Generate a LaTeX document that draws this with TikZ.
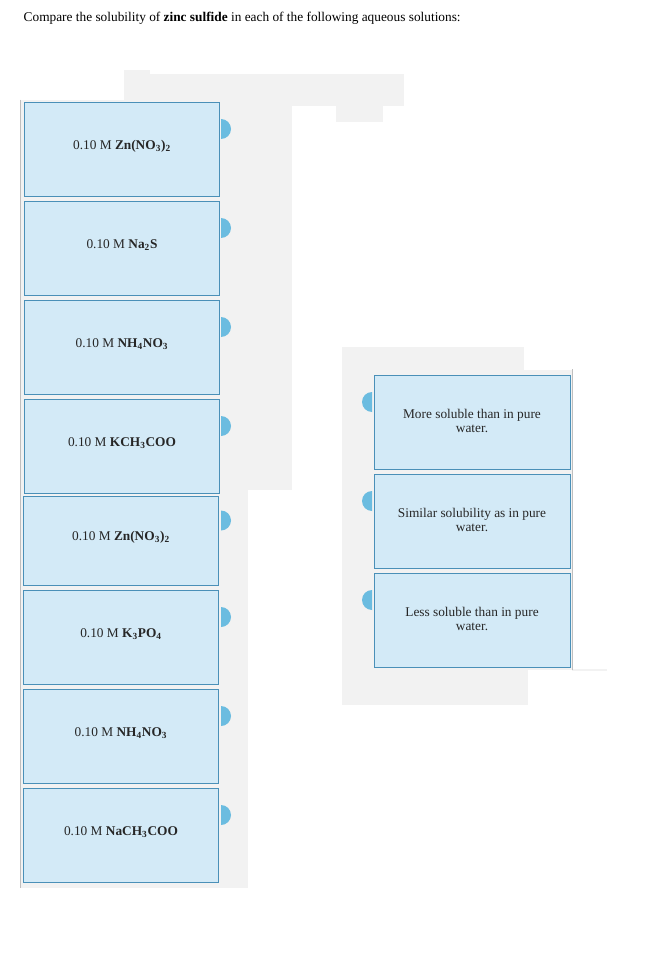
\documentclass[tikz,border=0pt]{standalone}
\usepackage{fontspec}
\setmainfont{Liberation Serif}
\begin{document}
\begin{tikzpicture}[x=0.75pt,y=-0.75pt,
  bx/.style={draw=blue!40!cyan!70!black!80, fill=cyan!12!blue!6, line width=0.6pt, inner sep=0pt},
  dot/.style={fill=cyan!50!blue!45},
  lbl/.style={font=\fontsize{10}{11}\selectfont, align=center, text=black!85}]
\definecolor{gbg}{HTML}{F2F2F2}
\definecolor{bfill}{HTML}{D3EAF7}
\definecolor{bline}{HTML}{4A90B8}
\definecolor{dotc}{HTML}{6BBCE0}
\tikzset{bx/.style={draw=bline, fill=bfill, line width=0.7pt}, dot/.style={fill=dotc}}
\useasboundingbox (0,0) rectangle (652,980);
\fill[white] (0,0) rectangle (652,980);
% gray areas
\fill[gbg] (124,74) rectangle (404,106);
\fill[gbg] (124,70) rectangle (150,74);
\fill[gbg] (336,106) rectangle (383,122);
\fill[gbg] (124,106) rectangle (292,490);
\fill[gbg] (20,100) rectangle (220,490);
\fill[gbg] (20,490) rectangle (248,888);
\fill[gbg] (342,347) rectangle (524,370);
\fill[gbg] (342,370) rectangle (572,670);
\fill[gbg] (342,670) rectangle (528,705);
\fill[gbg] (572,669) rectangle (607,671);
\draw[black!25, line width=0.6pt] (20.5,100) -- (20.5,888);
\draw[black!25, line width=0.6pt] (572.5,369) -- (572.5,670);
\node[anchor=west, font=\fontsize{10}{12}\selectfont] (title) at (19,18) {Compare the solubility of \textbf{zinc sulfide} in each of the following aqueous solutions:};
% left boxes
\foreach \i/\ya/\yb/\xa/\t in {
  1/102/196/24/{0.10 M \textbf{Zn(NO\textsubscript{3})\textsubscript{2}}},
  2/201/295/24/{0.10 M \textbf{Na\textsubscript{2}S}},
  3/300/394/24/{0.10 M \textbf{NH\textsubscript{4}NO\textsubscript{3}}},
  4/399/493/24/{0.10 M \textbf{KCH\textsubscript{3}COO}},
  5/496/585/23/{0.10 M \textbf{Zn(NO\textsubscript{3})\textsubscript{2}}},
  6/590/684/23/{0.10 M \textbf{K\textsubscript{3}PO\textsubscript{4}}},
  7/689/783/23/{0.10 M \textbf{NH\textsubscript{4}NO\textsubscript{3}}},
  8/788/882/23/{0.10 M \textbf{NaCH\textsubscript{3}COO}}}{
  \draw[bx] (\xa,\ya) rectangle (\xa+195,\yb);
  \node[lbl] (L\i) at (\xa+98,{(\ya+\yb)/2-3}) {\t};
  \fill[dot] (221,{(\ya+\yb)/2-10}) arc[start angle=90,end angle=-90,radius=10] -- cycle;
}
% right boxes
\foreach \i/\ya/\t in {
  1/375/{More soluble than in pure\\water.},
  2/474/{Similar solubility as in pure\\water.},
  3/573/{Less soluble than in pure\\water.}}{
  \fill[dot] (372,\ya+37) arc[start angle=90,end angle=270,radius=10] -- cycle;
  \draw[bx] (374,\ya) rectangle (570,\ya+94);
  \node[lbl, font=\fontsize{10}{10}\selectfont] (R\i) at (472,\ya+46) {\t};
}
\end{tikzpicture}
\end{document}
